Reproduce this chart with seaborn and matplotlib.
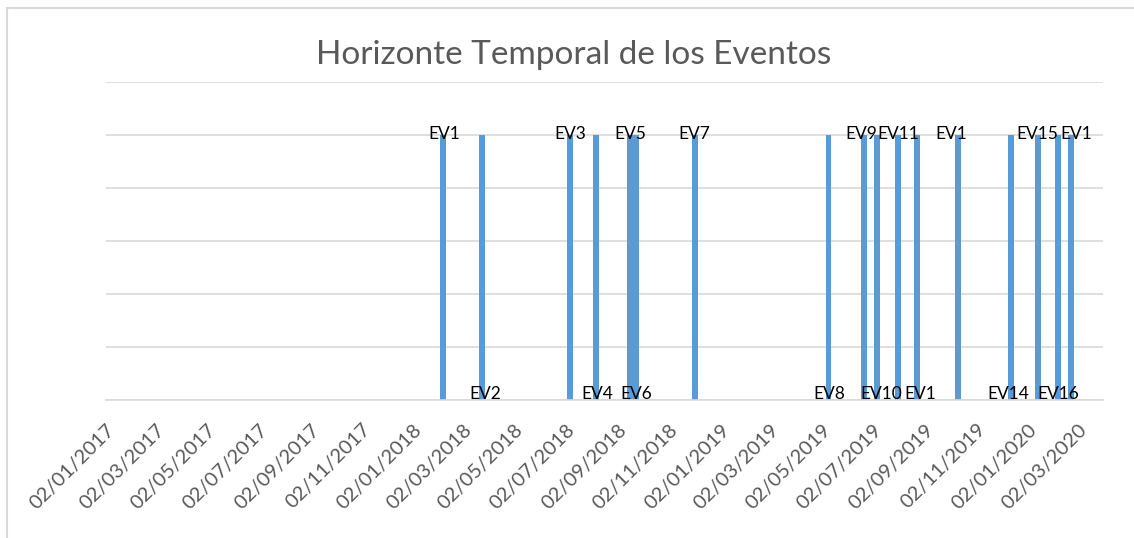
import matplotlib
matplotlib.use("Agg")
import matplotlib.pyplot as plt
import matplotlib.dates as mdates
import matplotlib.transforms as mtransforms
from matplotlib.patches import Rectangle
import seaborn as sns
import pandas as pd
import datetime as dt

# ---- data ----
event_labels = ["EV1", "EV2", "EV3", "EV4", "EV5", "EV6", "EV7", "EV8", "EV9",
                "EV10", "EV11", "EV1", "EV1", "EV14", "EV15", "EV16", "EV1"]
event_dates = ["2018-02-06", "2018-03-24", "2018-07-07", "2018-08-07",
               "2018-09-16", "2018-09-23", "2018-12-02", "2019-05-10",
               "2019-06-21", "2019-07-07", "2019-08-01", "2019-08-23",
               "2019-10-11", "2019-12-13", "2020-01-14", "2020-02-07",
               "2020-02-22"]
event_values = [1, 1, 1, 1, 1, 1, 1, 1, 1, 1, 1, 1, 1, 1, 1, 1, 1]
label_pos = ["top", "bottom", "top", "bottom", "top", "bottom", "top", "bottom",
             "top", "bottom", "top", "bottom", "top", "bottom", "top", "bottom",
             "top"]
tick_labels = ["02/01/2017", "02/03/2017", "02/05/2017", "02/07/2017",
               "02/09/2017", "02/11/2017", "02/01/2018", "02/03/2018",
               "02/05/2018", "02/07/2018", "02/09/2018", "02/11/2018",
               "02/01/2019", "02/03/2019", "02/05/2019", "02/07/2019",
               "02/09/2019", "02/11/2019", "02/01/2020", "02/03/2020"]
title = "Horizonte Temporal de los Eventos"
x_start = "2017-01-02"
x_end = "2020-03-31"

# label nudges in pixels (layout only)
label_nudge_px = [1, 4, 0, 1, 1, 1, 0, 1, -3, 4, 0, 3, -7, -3, -1, 0, 5]

# ---- style ----
sns.set_theme(style="white")
plt.rcParams["font.family"] = ["Lato", "DejaVu Sans"]

BAR = "#5B9BD5"
GRID = "#D9D9D9"
TXT = "#595959"

W, H = 1134, 538
fig = plt.figure(figsize=(W / 100, H / 100), dpi=100)
ax = fig.add_axes([106 / W, 1 - 400 / H, (1103 - 106) / W, (400 - 82) / H])

df = pd.DataFrame({
    "date": mdates.date2num(pd.to_datetime(event_dates)),
    "value": event_values,
})
sns.barplot(data=df, x="date", y="value", native_scale=True, orient="x",
            width=1.0, color=BAR, saturation=1, errorbar=None, ax=ax,
            linewidth=0)

for d, v, lab, pos, dx in zip(df["date"], event_values, event_labels,
                              label_pos, label_nudge_px):
    tr = mtransforms.offset_copy(ax.transData, fig=fig, x=dx, y=0, units="dots")
    yv = v * 0.985 if pos == "top" else 0.003
    ax.text(d, yv, lab, ha="center", va="baseline", fontsize=12.5,
            color="black", transform=tr)

ax.set_xlim(mdates.date2num(pd.Timestamp(x_start)),
            mdates.date2num(pd.Timestamp(x_end)))
ax.set_ylim(0, 1.2)
ax.set_yticks([0, 0.2, 0.4, 0.6, 0.8, 1.0, 1.2])
ax.set_yticklabels([])
ax.tick_params(axis="y", length=0)
ax.yaxis.grid(True, color=GRID, linewidth=1.2)
ax.set_axisbelow(True)

tick_pos = [mdates.date2num(dt.datetime.strptime(t, "%d/%m/%Y")) for t in tick_labels]
ax.set_xticks(tick_pos)
ax.set_xticklabels(tick_labels, rotation=45, ha="right", rotation_mode="anchor",
                   fontsize=14.5, color=TXT)
ax.tick_params(axis="x", length=0, pad=15)

for s in ["top", "left", "right"]:
    ax.spines[s].set_visible(False)
ax.spines["bottom"].set_color(GRID)
ax.spines["bottom"].set_linewidth(1.2)
ax.set_xlabel("")
ax.set_ylabel("")

fig.text(574 / W, 1 - 55 / H, title, ha="center", va="center",
         fontsize=24, color=TXT)

# outer chart border (cropped at right/bottom)
fig.patches.append(Rectangle((7 / W, -0.1), 1.2, (H - 8) / H + 0.1,
                             transform=fig.transFigure, fill=False,
                             edgecolor=GRID, linewidth=1.5))

fig.savefig("out.png", dpi=100)
